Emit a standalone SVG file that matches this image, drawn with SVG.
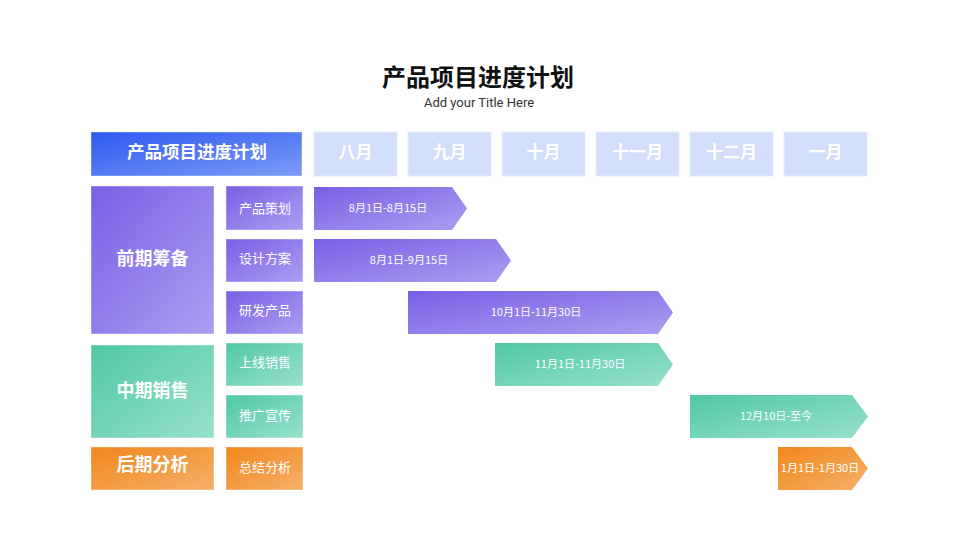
<svg xmlns="http://www.w3.org/2000/svg" width="960" height="540" viewBox="0 0 960 540">
<defs>
<linearGradient id="gBlue" x1="0" y1="0" x2="1" y2="1"><stop offset="0" stop-color="#2C58F0"/><stop offset="1" stop-color="#7E9CF7"/></linearGradient>
<linearGradient id="gPurple" x1="0" y1="0" x2="1" y2="1"><stop offset="0" stop-color="#7A5FE5"/><stop offset="1" stop-color="#AC9EF1"/></linearGradient>
<linearGradient id="gGreen" x1="0" y1="0" x2="1" y2="1"><stop offset="0" stop-color="#50C8A6"/><stop offset="1" stop-color="#98E1CC"/></linearGradient>
<linearGradient id="gOrange" x1="0" y1="0" x2="1" y2="1"><stop offset="0" stop-color="#F0871C"/><stop offset="1" stop-color="#F6B069"/></linearGradient>
<style>
.t{font-family:"Noto Sans CJK SC","Noto Sans",sans-serif;fill:#fff;text-anchor:middle}
.h{font-size:17.5px;font-weight:bold}
.mo{font-size:17px;font-weight:bold}
.p{font-size:18px;font-weight:bold}
.k{font-size:13px}
.b{font-size:11px}
.m{fill:#D3DEFC;stroke:#E6EDFE;stroke-width:1}
.bx{stroke:#ffffff;stroke-opacity:0.4;stroke-width:1}
</style>
</defs>
<rect width="960" height="540" fill="#fff"/>
<g id="title">
<text x="478" y="86" font-family="'Noto Sans CJK SC',sans-serif" font-size="24" font-weight="bold" fill="#111" text-anchor="middle">产品项目进度计划</text>
<text x="479" y="107" font-family="Roboto,'Noto Sans',sans-serif" font-size="13" fill="#333" text-anchor="middle">Add your Title Here</text>
</g>
<g id="header">
<rect x="91" y="132" width="211" height="44" fill="url(#gBlue)" class="bx"/>
<text x="197" y="158" class="t h">产品项目进度计划</text>
</g>
<g id="months">
<rect class="m" x="314" y="132" width="83" height="44"/><text x="355.5" y="158" class="t mo">八月</text>
<rect class="m" x="408" y="132" width="83" height="44"/><text x="449.5" y="158" class="t mo">九月</text>
<rect class="m" x="502" y="132" width="83" height="44"/><text x="543.5" y="158" class="t mo">十月</text>
<rect class="m" x="596" y="132" width="83" height="44"/><text x="637.5" y="158" class="t mo">十一月</text>
<rect class="m" x="690" y="132" width="83" height="44"/><text x="731.5" y="158" class="t mo">十二月</text>
<rect class="m" x="784" y="132" width="83" height="44"/><text x="825.5" y="158" class="t mo">一月</text>
</g>
<g id="phase1"><rect class="bx" x="91" y="186" width="123" height="148" fill="url(#gPurple)"/><text x="152.5" y="265" class="t p">前期筹备</text></g>
<g id="phase2"><rect class="bx" x="91" y="345" width="123" height="93" fill="url(#gGreen)"/><text x="152.5" y="397" class="t p">中期销售</text></g>
<g id="phase3"><rect class="bx" x="91" y="447" width="123" height="43" fill="url(#gOrange)"/><text x="152.5" y="471" class="t p">后期分析</text></g>
<g id="task1"><rect class="bx" x="226" y="186" width="77" height="44" fill="url(#gPurple)"/><text x="265" y="213" class="t k">产品策划</text></g>
<g id="task2"><rect class="bx" x="226" y="239" width="77" height="43" fill="url(#gPurple)"/><text x="265" y="263" class="t k">设计方案</text></g>
<g id="task3"><rect class="bx" x="226" y="291" width="77" height="43" fill="url(#gPurple)"/><text x="265" y="315" class="t k">研发产品</text></g>
<g id="task4"><rect class="bx" x="226" y="343" width="77" height="43" fill="url(#gGreen)"/><text x="265" y="367" class="t k">上线销售</text></g>
<g id="task5"><rect class="bx" x="226" y="395" width="77" height="43" fill="url(#gGreen)"/><text x="265" y="420" class="t k">推广宣传</text></g>
<g id="task6"><rect class="bx" x="226" y="447" width="77" height="43" fill="url(#gOrange)"/><text x="265" y="472" class="t k">总结分析</text></g>
<g id="bars">
<g id="bar1"><polygon points="314,187 452,187 467,208.5 452,230 314,230" fill="url(#gPurple)"/><text x="388" y="212" class="t b">8月1日-8月15日</text></g>
<g id="bar2"><polygon points="314,239 496,239 511,260.5 496,282 314,282" fill="url(#gPurple)"/><text x="409" y="264" class="t b">8月1日-9月15日</text></g>
<g id="bar3"><polygon points="408,291 658,291 673,312.5 658,334 408,334" fill="url(#gPurple)"/><text x="536" y="316" class="t b">10月1日-11月30日</text></g>
<g id="bar4"><polygon points="495,343 658,343 673,364.5 658,386 495,386" fill="url(#gGreen)"/><text x="580" y="368" class="t b">11月1日-11月30日</text></g>
<g id="bar5"><polygon points="690,395 852,395 868,416.5 852,438 690,438" fill="url(#gGreen)"/><text x="776" y="420" class="t b">12月10日-至今</text></g>
<g id="bar6"><polygon points="778,447 852,447 868,468.5 852,490 778,490" fill="url(#gOrange)"/><text x="820" y="472" class="t b">1月1日-1月30日</text></g>
</g>
</svg>
